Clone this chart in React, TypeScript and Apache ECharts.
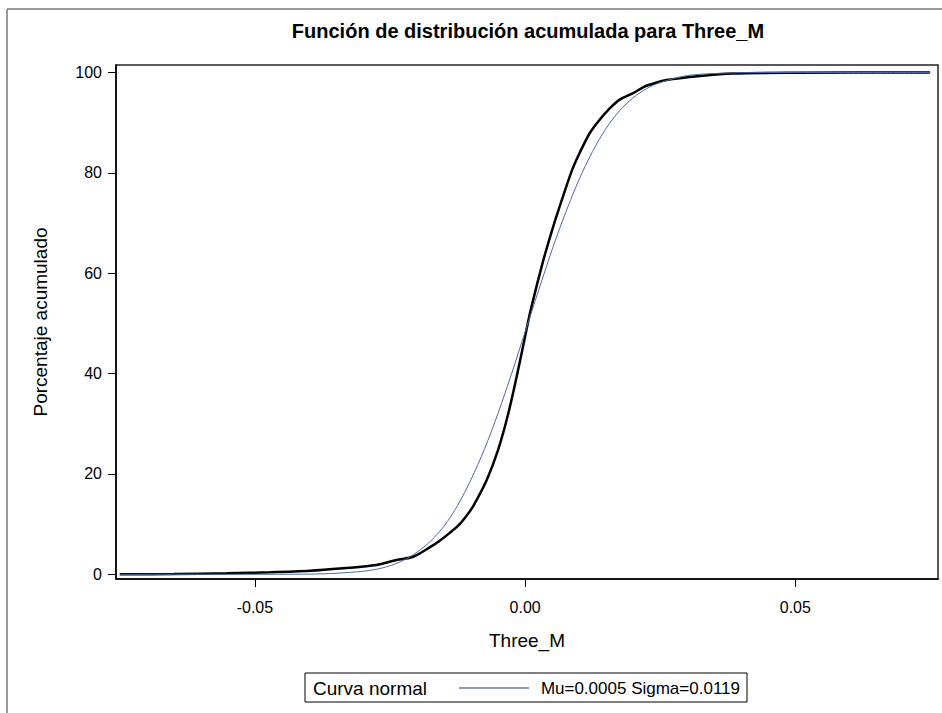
import React, { useEffect, useRef } from "react";
import * as echarts from "echarts";

const empX = [-0.0750, -0.0650, -0.0552, -0.0472, -0.0398, -0.0337, -0.0275, -0.0238, -0.0207, -0.0176, -0.0158, -0.0140, -0.0121, -0.0108, -0.0096, -0.0071, -0.0050, -0.0031, -0.0013, 0.0000, 0.0010, 0.0034, 0.0052, 0.0068, 0.0086, 0.0101, 0.0120, 0.0138, 0.0157, 0.0175, 0.0200, 0.0219, 0.0231, 0.0262, 0.0324, 0.0385, 0.0500, 0.0749];
const empY = [0.0, 0.05, 0.2, 0.4, 0.7, 1.2, 1.85, 2.85, 3.5, 5.4, 6.7, 8.2, 10.0, 11.7, 13.6, 18.8, 24.8, 32.1, 40.7, 47.4, 52.5, 62.7, 69.3, 74.6, 80.3, 84.0, 88.0, 90.6, 92.9, 94.6, 95.9, 97.1, 97.6, 98.5, 99.3, 99.8, 99.95, 100];

const normX = [-0.075, -0.05, -0.045, -0.04, -0.035, -0.03, -0.0275, -0.025, -0.0225, -0.02, -0.0175, -0.015, -0.0125, -0.01, -0.0075, -0.005, -0.0025, 0, 0.0025, 0.005, 0.0075, 0.01, 0.0125, 0.015, 0.0175, 0.02, 0.0225, 0.025, 0.03, 0.035, 0.04, 0.05, 0.075];
const normY = [0, 0.0, 0.01, 0.03, 0.2, 0.6, 1.0, 1.7, 2.8, 4.4, 6.6, 9.6, 13.7, 18.9, 25.0, 32.1, 40.0, 48.3, 56.6, 64.7, 72.1, 78.7, 84.3, 88.9, 92.4, 95.0, 96.8, 98.0, 99.4, 99.8, 99.96, 100, 100];

const xTicks = [-0.05, 0, 0.05];
const yTicks = [0, 20, 40, 60, 80, 100];

const titleText = "Función de distribución acumulada para Three_M";
const xName = "Three_M";
const yName = "Porcentaje acumulado";
const legendLabel = "Curva normal";
const legendParams = "Mu=0.0005 Sigma=0.0119";

const FONT = "'Liberation Sans', Arial, sans-serif";

export default function App() {
  const ref = useRef<HTMLDivElement>(null);
  useEffect(() => {
    if (!ref.current) return;
    const chart = echarts.init(ref.current, null, { renderer: "svg" });
    chart.setOption({
      animation: false,
      backgroundColor: "#fff",
      textStyle: { fontFamily: FONT },
      title: {
        text: titleText,
        left: 523,
        top: 16,
        textAlign: "center",
        textStyle: { fontSize: 20, fontWeight: "bold", color: "#000", fontFamily: FONT },
      },
      grid: {
        left: 116,
        top: 65,
        right: 4,
        bottom: 134,
        show: true,
        borderColor: "#222",
        borderWidth: 1.5,
        backgroundColor: "transparent",
      },
      xAxis: {
        type: "value",
        min: -0.0757,
        max: 0.0764,
        name: xName,
        nameLocation: "middle",
        nameGap: 52,
        nameTextStyle: { fontSize: 19, color: "#000", fontFamily: FONT },
        axisLine: { show: true, onZero: false, lineStyle: { color: "#000", width: 1.5 } },
        axisTick: { show: true, length: 8, customValues: xTicks, lineStyle: { color: "#000" } },
        axisLabel: {
          customValues: xTicks,
          margin: 20,
          fontSize: 16,
          color: "#000",
          fontFamily: FONT,
          formatter: (v: number) => v.toFixed(2),
        },
        splitLine: { show: false },
      },
      yAxis: {
        type: "value",
        min: -0.94,
        max: 101.5,
        name: yName,
        nameLocation: "middle",
        nameGap: 66,
        nameRotate: 90,
        nameTextStyle: { fontSize: 19, color: "#000", fontFamily: FONT },
        axisLine: { show: true, onZero: false, lineStyle: { color: "#000", width: 1.5 } },
        axisTick: { show: true, length: 8, customValues: yTicks, lineStyle: { color: "#000" } },
        axisLabel: {
          customValues: yTicks,
          margin: 14,
          fontSize: 16,
          color: "#000",
          fontFamily: FONT,
        },
        splitLine: { show: false },
      },
      series: [
        {
          type: "line",
          name: legendLabel,
          data: normX.map((x, i) => [x, normY[i]]),
          smooth: 0.3,
          showSymbol: false,
          lineStyle: { color: "#4a6aa8", width: 1 },
          z: 3,
        },
        {
          type: "line",
          name: "Empirical",
          data: empX.map((x, i) => [x, empY[i]]),
          smooth: 0.3,
          showSymbol: false,
          lineStyle: { color: "#000", width: 2.5 },
          z: 2,
        },
      ],
      graphic: [
        { type: "line", shape: { x1: 7, y1: 9, x2: 942, y2: 9 }, style: { stroke: "#999", lineWidth: 2 } },
        { type: "line", shape: { x1: 7, y1: 9, x2: 7, y2: 713 }, style: { stroke: "#999", lineWidth: 2 } },
        {
          type: "rect",
          shape: { x: 305, y: 673, width: 442, height: 29 },
          style: { fill: "#fff", stroke: "#000", lineWidth: 1 },
        },
        {
          type: "text",
          x: 313,
          y: 688,
          style: { text: legendLabel, fontSize: 19, fontFamily: FONT, fill: "#000", verticalAlign: "middle", align: "left" },
        },
        {
          type: "line",
          shape: { x1: 459, y1: 688, x2: 529, y2: 688 },
          style: { stroke: "#1a3370", lineWidth: 1 },
        },
        {
          type: "text",
          x: 740,
          y: 688,
          style: { text: legendParams, fontSize: 17, fontFamily: FONT, fill: "#000", verticalAlign: "middle", align: "right" },
        },
      ],
    });
    return () => chart.dispose();
  }, []);
  return <div ref={ref} style={{ position: "fixed", left: 0, top: 0, width: 942, height: 713 }} />;
}
